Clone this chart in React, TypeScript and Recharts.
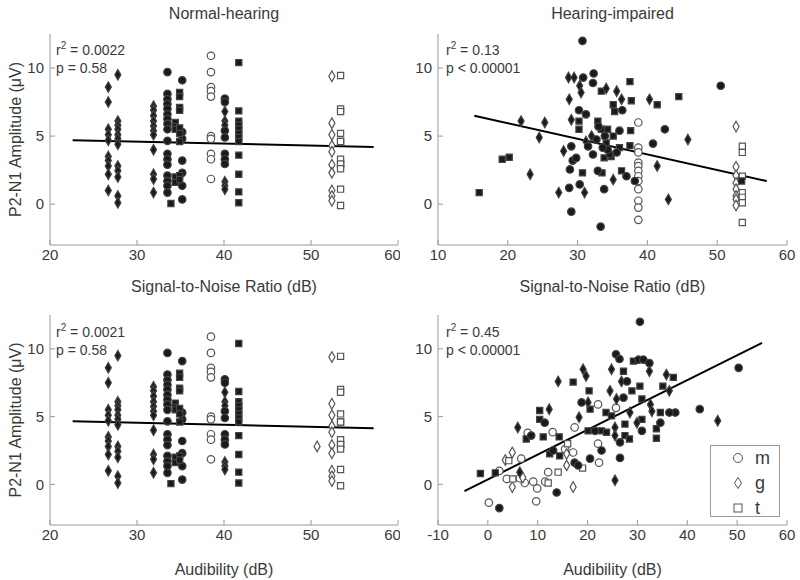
import { ScatterChart, Scatter, XAxis, YAxis, ReferenceLine, Symbols } from 'recharts';

type Pt = { x: number; y: number };
// stimuli were plotted in vertical columns, so a column is one x with several read y values
const col = (x: number, ys: number[]): Pt[] => ys.map((y) => ({ x, y }));

// ---- Normal-hearing, SNR (top left) ----
const nhSnrDiamondFilled: Pt[] = [
  ...col(26.7, [8.6, 7.5, 5.5, 5.1, 4.7, 3.5, 3.2, 2.8, 2.2, 1.0]),
  ...col(27.8, [9.5, 6.1, 5.8, 5.5, 5.1, 4.8, 4.4, 2.8, 2.45, 2.0, 0.6, 0.1]),
  ...col(31.9, [7.2, 6.9, 6.5, 6.1, 5.75, 5.4, 5.1, 4.0, 2.2, 1.85, 0.85]),
  ...col(40.1, [6.8, 6.1, 5.8, 1.65, 1.35, 1.1]),
];
const nhSnrCircleFilled: Pt[] = [
  ...col(33.5, [9.7, 8.1, 7.7, 7.35, 7.0, 6.6, 6.25, 5.9, 5.5, 4.65, 3.7, 3.3, 2.9, 2.1, 1.7, 1.35, 0.85]),
  ...col(35.2, [9.1, 5.3, 4.8, 3.2, 2.3, 1.35, 0.35]),
  ...col(40.1, [7.75, 7.5, 5.4, 4.9, 3.7, 3.3, 2.95]),
];
const nhSnrSquareFilled: Pt[] = [
  ...col(34.4, [6.0, 5.7, 5.5, 2.0, 1.6]),
  ...col(34.9, [8.2, 7.9, 7.1, 6.9, 5.6, 5.2, 4.6, 2.1, 1.8]),
  { x: 33.9, y: 0.05 },
  ...col(41.7, [10.4, 6.85, 6.1, 5.8, 5.5, 5.2, 4.9, 4.6, 3.6, 2.2, 0.9, 0.1]),
  ...col(53.4, [4.6, 2.9]),
];
const nhSnrCircleOpen: Pt[] = col(38.5, [10.9, 9.7, 8.6, 8.3, 7.9, 5.0, 4.8, 3.7, 3.3, 1.85]);
const nhSnrDiamondOpen: Pt[] = col(52.4, [9.4, 5.95, 5.1, 4.3, 3.85, 2.9, 2.3, 1.0, 0.6, 0.25]);
const nhSnrSquareOpen: Pt[] = col(53.4, [9.45, 7.0, 6.8, 5.2, 4.6, 3.3, 2.95, 2.6, 1.1, -0.1]);
const nhSnrFit: Pt[] = [{ x: 22.6, y: 4.7 }, { x: 57.2, y: 4.2 }];

// ---- Normal-hearing, audibility (bottom left) ----
const nhAudDiamondOpen: Pt[] = [...nhSnrDiamondOpen, { x: 50.7, y: 2.8 }];
const nhAudFit: Pt[] = [{ x: 22.6, y: 4.65 }, { x: 57.2, y: 4.15 }];

// ---- Hearing-impaired, SNR (top right) ----
const hiSnrSquareFilled: Pt[] = [
  { x: 15.9, y: 0.85 }, { x: 19.2, y: 3.3 }, { x: 20.2, y: 3.45 }, { x: 37.5, y: 9.0 }, { x: 44.5, y: 7.9 },
  { x: 41.4, y: 7.3 }, { x: 37.7, y: 7.6 }, { x: 37.6, y: 5.4 }, { x: 37.5, y: 4.3 }, { x: 33.4, y: 8.3 },
  { x: 35.1, y: 7.3 }, { x: 35.3, y: 6.8 }, { x: 32.9, y: 6.1 }, { x: 30.2, y: 6.1 }, { x: 30.2, y: 5.5 },
  { x: 34.3, y: 5.5 }, { x: 33.8, y: 3.4 }, { x: 34.8, y: 3.5 }, { x: 36, y: 4.15 }, { x: 36.3, y: 2.45 },
  { x: 33.5, y: 2.3 }, { x: 30.7, y: 2.3 }, { x: 33.4, y: 5.5 }, { x: 34.1, y: 4.5 }, { x: 34.6, y: 3.65 },
  { x: 35.1, y: 5.0 }, { x: 53.5, y: 1.7 },
];
const hiSnrDiamondFilled: Pt[] = [
  { x: 21.9, y: 6.1 }, { x: 23.2, y: 2.2 }, { x: 24.5, y: 4.9 }, { x: 25.3, y: 6.0 }, { x: 27.3, y: 0.85 },
  { x: 28, y: 3.9 }, { x: 28.8, y: 7.7 }, { x: 29.1, y: 6.2 }, { x: 28.7, y: 9.3 }, { x: 29.5, y: 9.3 },
  { x: 30.3, y: 8.7 }, { x: 30.5, y: 8.2 }, { x: 34.1, y: 8.5 }, { x: 35.6, y: 8.3 }, { x: 36.3, y: 7.7 },
  { x: 40.3, y: 7.7 }, { x: 41.4, y: 2.8 }, { x: 43, y: 0.35 }, { x: 45.8, y: 4.75 }, { x: 31, y: 0.85 },
  { x: 35.1, y: 1.8 }, { x: 32, y: 5.0 }, { x: 31.2, y: 4.6 },
];
const hiSnrCircleFilled: Pt[] = [
  { x: 30.7, y: 12.0 }, { x: 32.3, y: 9.6 }, { x: 32.2, y: 8.9 }, { x: 30.8, y: 9.3 }, { x: 30.2, y: 6.9 },
  { x: 31.2, y: 6.6 }, { x: 36.4, y: 6.9 }, { x: 36, y: 5.4 }, { x: 42.5, y: 5.5 }, { x: 40.8, y: 4.45 },
  { x: 50.5, y: 8.7 }, { x: 29.1, y: 4.25 }, { x: 28.9, y: 2.55 }, { x: 29.3, y: 3.2 }, { x: 29.8, y: 3.4 },
  { x: 28.8, y: 1.2 }, { x: 30.3, y: 1.45 }, { x: 29.1, y: -0.55 }, { x: 33.3, y: -1.65 }, { x: 32.2, y: 3.65 },
  { x: 33.8, y: 1.1 }, { x: 37, y: 2.05 }, { x: 38.2, y: 1.7 }, { x: 32.9, y: 2.45 }, { x: 31.5, y: 4.25 },
  { x: 33.9, y: 5.0 }, { x: 34.3, y: 4.0 }, { x: 33.6, y: 4.15 }, { x: 32.7, y: 4.75 }, { x: 35.6, y: 3.8 },
  { x: 33, y: 5.7 },
];
const hiSnrCircleOpen: Pt[] = col(38.7, [6.0, 4.15, 3.8, 3.05, 2.8, 2.45, 2.05, 1.7, 1.1, 0.25, -0.25, -1.15]);
const hiSnrDiamondOpen: Pt[] = col(52.7, [5.7, 2.75, 2.1, 1.55, 1.1, 0.6, 0.35, -0.1]);
const hiSnrSquareOpen: Pt[] = col(53.6, [4.25, 3.8, 2.05, 0.85, 0.5, 0.1, -1.35]);
const hiSnrFit: Pt[] = [{ x: 15.2, y: 6.5 }, { x: 57.1, y: 1.7 }];

// ---- Hearing-impaired, audibility (bottom right) ----
const hiAudCircleOpen: Pt[] = [
  { x: 0.2, y: -1.35 }, { x: 9.7, y: -1.25 }, { x: 9.9, y: -0.3 }, { x: 9.1, y: 0.2 }, { x: 7.4, y: 0.1 },
  { x: 6.4, y: 0.45 }, { x: 6.7, y: 1.9 }, { x: 2.3, y: 1.0 }, { x: 12.1, y: 0.9 }, { x: 17.1, y: 2.35 },
  { x: 13, y: 3.85 }, { x: 17.4, y: 4.2 }, { x: 22.1, y: 5.9 }, { x: 22.1, y: 3.0 }, { x: 22.3, y: 1.6 },
  { x: 25.7, y: 5.65 }, { x: 8.0, y: 3.8 }, { x: 11.5, y: 0.2 }, { x: 15.5, y: 2.6 }, { x: 3.8, y: 0.4 },
];
const hiAudDiamondOpen: Pt[] = [
  { x: 4.9, y: -0.2 }, { x: 4.9, y: 2.35 }, { x: 15.8, y: 1.4 }, { x: 17.1, y: -0.2 }, { x: 15.8, y: 2.25 },
  { x: 3.5, y: 1.8 }, { x: 7.0, y: 0.5 },
];
const hiAudSquareOpen: Pt[] = [
  { x: 5, y: 0.4 }, { x: 4.2, y: 1.75 }, { x: 12.1, y: 0.1 }, { x: 14.1, y: 0.9 }, { x: 19.0, y: 1.2 }, { x: 16, y: 3.0 },
];
const hiAudCircleFilled: Pt[] = [
  { x: 30.5, y: 12.0 }, { x: 50.3, y: 8.6 }, { x: 42.5, y: 5.55 }, { x: 2.3, y: -1.75 }, { x: 13.8, y: -0.6 },
  { x: 8.7, y: 3.6 }, { x: 17.4, y: 1.6 }, { x: 18.8, y: 6.05 }, { x: 20.5, y: 1.9 }, { x: 18.1, y: 1.4 },
  { x: 25.7, y: 9.6 }, { x: 26.4, y: 9.25 }, { x: 27.2, y: 6.4 }, { x: 27.9, y: 7.6 }, { x: 26.5, y: 3.1 },
  { x: 26.5, y: 1.95 }, { x: 30.9, y: 3.95 }, { x: 30.2, y: 9.2 }, { x: 31.2, y: 9.2 }, { x: 32.4, y: 8.95 },
  { x: 34.6, y: 4.55 }, { x: 37.6, y: 5.3 }, { x: 36.4, y: 5.3 }, { x: 13.1, y: 2.5 }, { x: 22.8, y: 2.5 },
  { x: 11.4, y: 4.55 }, { x: 21.5, y: 3.95 },
];
const hiAudDiamondFilled: Pt[] = [
  { x: 6.4, y: 0.9 }, { x: 6, y: 4.2 }, { x: 12.3, y: 5.55 }, { x: 14.1, y: 7.6 }, { x: 19.1, y: 8.5 },
  { x: 19.7, y: 8.0 }, { x: 20.1, y: 6.05 }, { x: 18.3, y: 4.95 }, { x: 25.5, y: 4.2 }, { x: 25.5, y: 3.6 },
  { x: 25.5, y: 0.3 }, { x: 24.5, y: 6.9 }, { x: 24.8, y: 8.5 }, { x: 25.8, y: 6.3 }, { x: 26.8, y: 7.6 },
  { x: 28.5, y: 5.3 }, { x: 32.4, y: 8.35 }, { x: 32.6, y: 5.9 }, { x: 35.8, y: 8.1 }, { x: 36.4, y: 6.9 },
  { x: 46.1, y: 4.7 }, { x: 29.9, y: 4.55 }, { x: 32.9, y: 5.4 },
];
const hiAudSquareFilled: Pt[] = [
  { x: 1.5, y: 0.85 }, { x: -1.5, y: 0.8 }, { x: 14.4, y: 2.1 }, { x: 12.4, y: 2.25 }, { x: 14.3, y: 3.5 },
  { x: 11.1, y: 3.5 }, { x: 7.7, y: 3.35 }, { x: 10.4, y: 4.8 }, { x: 10.4, y: 5.45 }, { x: 17.1, y: 7.55 },
  { x: 20.3, y: 6.9 }, { x: 20.5, y: 5.55 }, { x: 20.1, y: 3.95 }, { x: 22.8, y: 3.95 }, { x: 23.8, y: 3.85 },
  { x: 23.7, y: 5.3 }, { x: 24.8, y: 5.05 }, { x: 27.2, y: 8.35 }, { x: 28.9, y: 6.9 }, { x: 27.5, y: 3.6 },
  { x: 28.4, y: 3.35 }, { x: 27.5, y: 4.45 }, { x: 30.9, y: 4.8 }, { x: 30.9, y: 6.3 }, { x: 30.5, y: 7.25 },
  { x: 29.2, y: 9.1 }, { x: 33.8, y: 4.1 }, { x: 33.8, y: 3.4 }, { x: 34.6, y: 5.3 }, { x: 35.1, y: 7.25 },
  { x: 37.2, y: 7.9 },
];
const hiAudFit: Pt[] = [{ x: -4.7, y: -0.5 }, { x: 55, y: 10.45 }];

const snrTicksNH = [20, 30, 40, 50, 60];
const snrTicksHI = [10, 20, 30, 40, 50, 60];
const audTicksHI = [-10, 0, 10, 20, 30, 40, 50, 60];
const ampTicks = [0, 5, 10];
const ampDomain: [number, number] = [-3, 12.5];

const FONT = "'Liberation Sans Narrow', 'Liberation Sans', Arial, sans-serif";
const AXIS = '#9a9a9a';
const TEXT = '#3a3a3a';

type ShapeName = 'circle' | 'diamond' | 'square';
type Series = { data: Pt[]; shape: ShapeName; filled: boolean };

const markerSize: Record<ShapeName, number> = { circle: 44, diamond: 32, square: 38 };

function Marker(props: any) {
  const { cx, cy, kind, filled } = props;
  if (cx == null || cy == null) return null;
  return (
    <Symbols
      cx={cx}
      cy={cy}
      type={kind}
      size={markerSize[kind as ShapeName]}
      fill={filled ? '#1a1a1a' : '#ffffff'}
      stroke={filled ? '#444' : '#555'}
      strokeWidth={1.2}
    />
  );
}

interface PanelProps {
  left: number;
  top: number;
  height: number;
  marginTop: number;
  yAxisWidth: number;
  marginRight: number;
  xDomain: [number, number];
  xTicks: number[];
  xLabel: string;
  labelOffset: number;
  yLabel?: string;
  series: Series[];
  fit: Pt[];
}

function Panel({ left, top, height, marginTop, yAxisWidth, marginRight, xDomain, xTicks, xLabel, labelOffset, yLabel, series, fit }: PanelProps) {
  return (
    <div style={{ position: 'absolute', left, top }}>
      <ScatterChart width={400} height={height} margin={{ top: marginTop, right: marginRight, left: 0, bottom: 0 }}>
        <XAxis
          type="number"
          dataKey="x"
          domain={xDomain}
          ticks={xTicks}
          allowDataOverflow
          height={55}
          tickSize={-5}
          tickMargin={9}
          stroke={AXIS}
          tick={{ fill: TEXT, fontSize: 15, fontFamily: FONT }}
          label={{ value: xLabel, position: 'insideBottom', offset: labelOffset, fill: TEXT, fontSize: 16, fontFamily: FONT }}
        />
        <XAxis xAxisId="top" orientation="top" type="number" domain={xDomain} ticks={xTicks} allowDataOverflow height={0} tickSize={-5} tick={false} stroke={AXIS} />
        <YAxis
          type="number"
          dataKey="y"
          domain={ampDomain}
          ticks={ampTicks}
          allowDataOverflow
          width={yAxisWidth}
          tickSize={-5}
          tickMargin={11}
          stroke={AXIS}
          tick={{ fill: TEXT, fontSize: 15, fontFamily: FONT }}
          label={yLabel ? { value: yLabel, angle: -90, position: 'insideLeft', offset: 15, fill: TEXT, fontSize: 16, fontFamily: FONT, style: { textAnchor: 'middle' } } : undefined}
        />
        <YAxis yAxisId="right" orientation="right" type="number" domain={ampDomain} ticks={ampTicks} allowDataOverflow width={0} tickSize={-5} tick={false} stroke={AXIS} />
        {series.map((s, i) => (
          <Scatter
            key={i}
            data={s.data}
            shape={(p: any) => <Marker {...p} kind={s.shape} filled={s.filled} />}
            isAnimationActive={false}
          />
        ))}
        <ReferenceLine segment={fit} stroke="#000" strokeWidth={2} />
      </ScatterChart>
    </div>
  );
}

function Stats({ left, top, r2, p }: { left: number; top: number; r2: string; p: string }) {
  return (
    <div style={{ position: 'absolute', left, top, fontSize: 14, lineHeight: '18px', color: TEXT, fontFamily: FONT }}>
      <div>
        r<sup style={{ fontSize: 10, lineHeight: 0 }}>2</sup> = {r2}
      </div>
      <div>p {p}</div>
    </div>
  );
}

function LegendBox() {
  const rows: { shape: ShapeName; label: string }[] = [
    { shape: 'circle', label: 'm' },
    { shape: 'diamond', label: 'g' },
    { shape: 'square', label: 't' },
  ];
  return (
    <div style={{ position: 'absolute', left: 710, top: 445, width: 70, height: 72, border: `1px solid ${AXIS}`, background: '#fff', boxSizing: 'border-box' }}>
      {rows.map((r, i) => (
        <div key={r.label} style={{ position: 'absolute', left: 21, top: 2 + i * 25, height: 20, display: 'flex', alignItems: 'center', gap: 11 }}>
          <svg width={12} height={12}>
            {r.shape === 'circle' && <circle cx={6} cy={6} r={4.5} fill="#fff" stroke="#555" />}
            {r.shape === 'diamond' && <path d="M6 0.5 L9.5 6 L6 11.5 L2.5 6 Z" fill="#fff" stroke="#555" />}
            {r.shape === 'square' && <rect x={2} y={2} width={8} height={8} fill="#fff" stroke="#555" />}
          </svg>
          <span style={{ fontSize: 18, color: TEXT, fontFamily: FONT }}>{r.label}</span>
        </div>
      ))}
    </div>
  );
}

export default function App() {
  const nhSnrSeries: Series[] = [
    { data: nhSnrDiamondFilled, shape: 'diamond', filled: true },
    { data: nhSnrCircleFilled, shape: 'circle', filled: true },
    { data: nhSnrSquareFilled, shape: 'square', filled: true },
    { data: nhSnrCircleOpen, shape: 'circle', filled: false },
    { data: nhSnrDiamondOpen, shape: 'diamond', filled: false },
    { data: nhSnrSquareOpen, shape: 'square', filled: false },
  ];
  const nhAudSeries: Series[] = [
    { data: nhSnrDiamondFilled, shape: 'diamond', filled: true },
    { data: nhSnrCircleFilled, shape: 'circle', filled: true },
    { data: nhSnrSquareFilled, shape: 'square', filled: true },
    { data: nhSnrCircleOpen, shape: 'circle', filled: false },
    { data: nhAudDiamondOpen, shape: 'diamond', filled: false },
    { data: nhSnrSquareOpen, shape: 'square', filled: false },
  ];
  const hiSnrSeries: Series[] = [
    { data: hiSnrCircleOpen, shape: 'circle', filled: false },
    { data: hiSnrDiamondOpen, shape: 'diamond', filled: false },
    { data: hiSnrSquareOpen, shape: 'square', filled: false },
    { data: hiSnrSquareFilled, shape: 'square', filled: true },
    { data: hiSnrDiamondFilled, shape: 'diamond', filled: true },
    { data: hiSnrCircleFilled, shape: 'circle', filled: true },
  ];
  const hiAudSeries: Series[] = [
    { data: hiAudCircleOpen, shape: 'circle', filled: false },
    { data: hiAudDiamondOpen, shape: 'diamond', filled: false },
    { data: hiAudSquareOpen, shape: 'square', filled: false },
    { data: hiAudSquareFilled, shape: 'square', filled: true },
    { data: hiAudDiamondFilled, shape: 'diamond', filled: true },
    { data: hiAudCircleFilled, shape: 'circle', filled: true },
  ];

  return (
    <div style={{ position: 'absolute', left: 0, top: 0, width: 800, height: 580, background: '#fff', fontFamily: FONT, overflow: 'hidden' }}>
      <div style={{ position: 'absolute', left: 50, width: 348, top: 5, textAlign: 'center', fontSize: 16, color: TEXT }}>Normal-hearing</div>
      <div style={{ position: 'absolute', left: 438, width: 349, top: 5, textAlign: 'center', fontSize: 16, color: TEXT }}>Hearing-impaired</div>

      <Panel left={0} top={0} height={300} marginTop={34} yAxisWidth={50} marginRight={2} xDomain={[20, 60]} xTicks={snrTicksNH}
        xLabel="Signal-to-Noise Ratio (dB)" labelOffset={8} yLabel="P2-N1 Amplitude (μV)" series={nhSnrSeries} fit={nhSnrFit} />
      <Panel left={400} top={0} height={300} marginTop={34} yAxisWidth={38} marginRight={13} xDomain={[10, 60]} xTicks={snrTicksHI}
        xLabel="Signal-to-Noise Ratio (dB)" labelOffset={8} series={hiSnrSeries} fit={hiSnrFit} />
      <Panel left={0} top={290} height={290} marginTop={25} yAxisWidth={50} marginRight={2} xDomain={[20, 60]} xTicks={snrTicksNH}
        xLabel="Audibility (dB)" labelOffset={5} yLabel="P2-N1 Amplitude (μV)" series={nhAudSeries} fit={nhAudFit} />
      <Panel left={400} top={290} height={290} marginTop={25} yAxisWidth={38} marginRight={13} xDomain={[-10, 60]} xTicks={audTicksHI}
        xLabel="Audibility (dB)" labelOffset={5} series={hiAudSeries} fit={hiAudFit} />

      <Stats left={56} top={41} r2="0.0022" p="= 0.58" />
      <Stats left={446} top={41} r2="0.13" p="< 0.00001" />
      <Stats left={56} top={323} r2="0.0021" p="= 0.58" />
      <Stats left={446} top={323} r2="0.45" p="< 0.00001" />

      <LegendBox />
    </div>
  );
}
